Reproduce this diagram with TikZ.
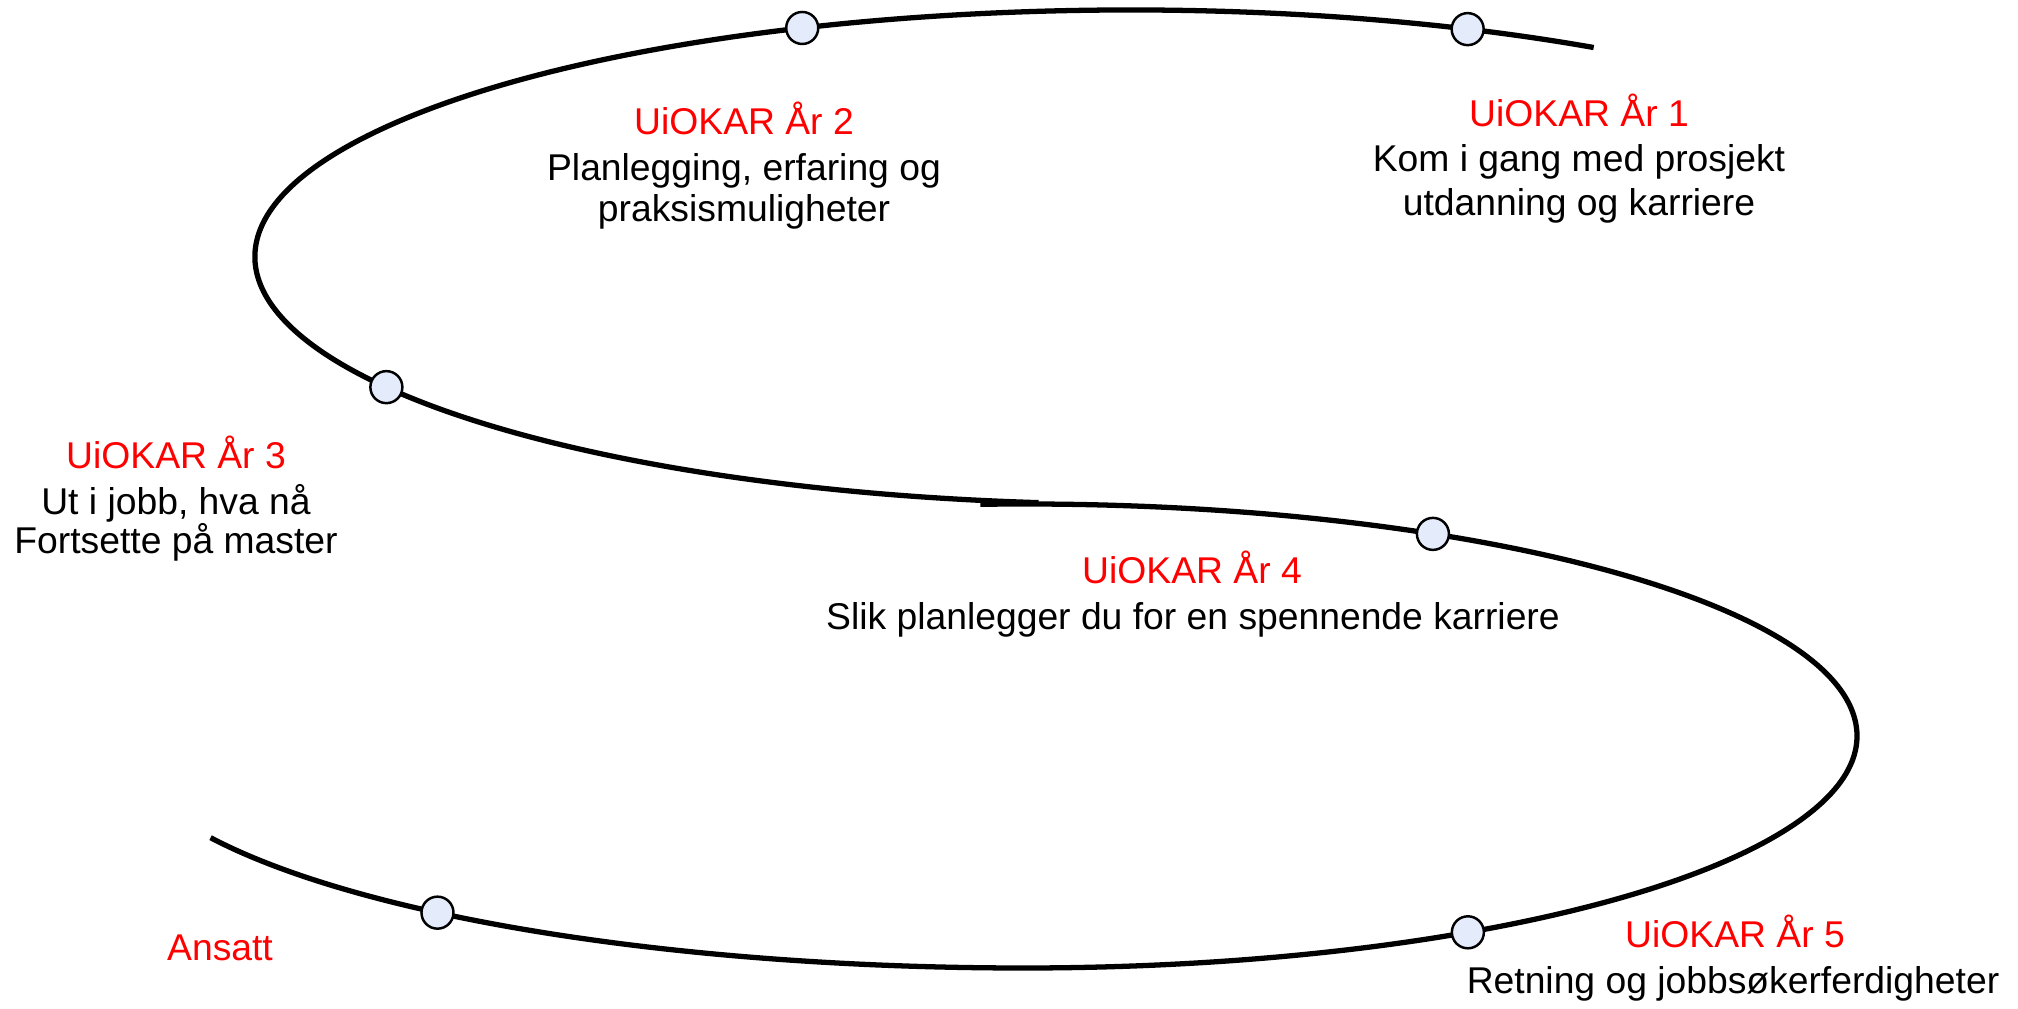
\documentclass[tikz,border=0pt]{standalone}
\usepackage{fontspec}
\setmainfont{Liberation Sans}
\usetikzlibrary{calc}
\definecolor{dotfill}{HTML}{E4EBFB}
\definecolor{titlered}{HTML}{FF0000}
\begin{document}
\begin{tikzpicture}[x=0.01cm,y=0.01cm,
  curve/.style={line width=1.5pt,black},
  dot/.style={circle,draw=black,line width=0.7pt,fill=dotfill,minimum size=0.32cm,inner sep=0pt},
  title/.style={anchor=base,inner sep=0pt,text=titlered,font=\fontsize{10.6}{12.6}\selectfont},
  body/.style={anchor=base,inner sep=0pt,text=black,font=\fontsize{10.6}{12.6}\selectfont}]
\useasboundingbox (0,0) rectangle (2018,1009);
% centres of the ellipses
\coordinate (ct) at (1130,752);
\coordinate (cb) at (1024,273);
% end points
\coordinate (startT) at ($(ct)+(58:875 and 247)$);
\coordinate (startB) at ($(cb)+(93:833 and 232)$);
% upper loop
\draw[curve] (startT) arc[start angle=58,end angle=264,x radius=875,y radius=247] coordinate (endT);
% lower loop
\draw[curve] (startB) arc[start angle=93,end angle=-90,x radius=833,y radius=232]
  arc[start angle=270,end angle=206,x radius=905,y radius=232] coordinate (endB);
% milestone dots
\node[dot] (d1) at ($(ct)+(67.3:875 and 247)$) {};
\node[dot] (d2) at ($(ct)+(112:875 and 247)$) {};
\node[dot] (d3) at ($(ct)+(211.8:875 and 247)$) {};
\node[dot] (d4) at ($(cb)+(60.6:833 and 232)$) {};
\node[dot] (d5) at ($(cb)+(-57.8:833 and 232)$) {};
\node[dot] (d6) at ($(cb)+(229.6:905 and 232)$) {};
% labels
\node[title] (r1) at (1579,882) {UiOKAR År 1};
\node[body] (b1a) at (1579,837) {Kom i gang med prosjekt};
\node[body] (b1b) at (1579,793) {utdanning og karriere};
\node[title] (r2) at (744,874) {UiOKAR År 2};
\node[body] (b2a) at (744,828) {Planlegging, erfaring og};
\node[body] (b2b) at (744,787) {praksismuligheter};
\node[title] (r3) at (176,540) {UiOKAR År 3};
\node[body] (b3a) at (176,494) {Ut i jobb, hva nå};
\node[body] (b3b) at (176,455) {Fortsette på master};
\node[title] (r4) at (1192,425) {UiOKAR År 4};
\node[body] (b4) at (1193,379) {Slik planlegger du for en spennende karriere};
\node[title] (r5) at (1735,61) {UiOKAR År 5};
\node[body] (b5) at (1733,15) {Retning og jobbsøkerferdigheter};
\node[title] (ansatt) at (220,48) {Ansatt};
\end{tikzpicture}
\end{document}
